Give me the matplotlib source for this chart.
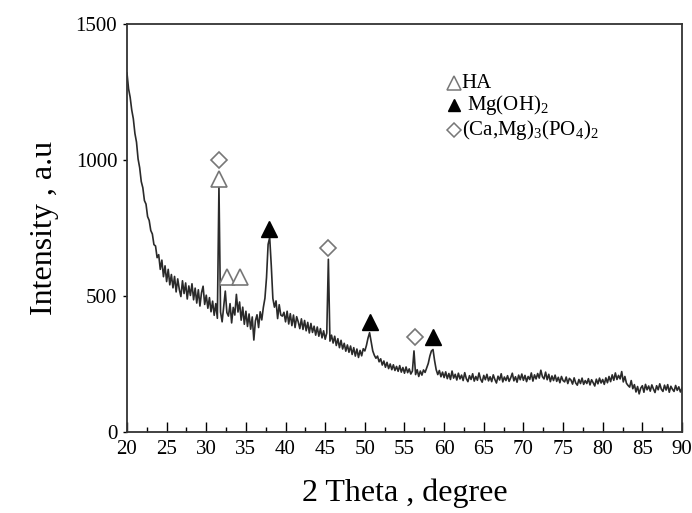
import numpy as np
import matplotlib
matplotlib.use("Agg")
import matplotlib.pyplot as plt
from matplotlib.ticker import MultipleLocator

plt.rcParams['font.family'] = ['Liberation Serif', 'DejaVu Serif']
plt.rcParams['mathtext.fontset'] = 'custom'
plt.rcParams['mathtext.rm'] = 'Liberation Serif'

# XRD intensity, 20..90 deg in 0.2 deg steps
intensity = [
    1320, 1262, 1231, 1184, 1152, 1098, 1066, 1004, 972, 921,
    898, 851, 838, 792, 778, 741, 728, 689, 684, 641,
    652, 598, 632, 571, 611, 553, 598, 541, 579, 530,
    572, 515, 563, 524, 498, 556, 509, 548, 489, 537,
    502, 545, 486, 529, 474, 523, 463, 512, 536, 469,
    503, 455, 494, 442, 481, 429, 472, 418, 905, 441,
    405, 463, 518, 439, 426, 472, 401, 458, 430, 506,
    441, 478, 411, 459, 396, 444, 388, 434, 378, 423,
    338, 409, 431, 384, 442, 412, 458, 492, 568, 690,
    715, 612, 491, 459, 482, 417, 468, 430, 426, 440,
    405, 444, 397, 435, 391, 430, 384, 424, 405, 380,
    416, 377, 410, 372, 403, 364, 399, 366, 389, 356,
    386, 352, 380, 346, 372, 341, 364, 635, 334, 356,
    327, 352, 318, 343, 310, 337, 305, 326, 297, 320,
    293, 316, 285, 310, 279, 305, 274, 300, 280, 306,
    298, 318, 345, 365, 332, 298, 282, 271, 279, 258,
    269, 246, 261, 238, 256, 233, 250, 229, 247, 226,
    241, 223, 244, 220, 237, 216, 239, 218, 232, 213,
    224, 298, 211, 229, 204, 224, 209, 228, 219, 236,
    252, 279, 298, 303, 262, 229, 211, 226, 203, 220,
    200, 221, 196, 215, 193, 224, 198, 212, 191, 216,
    195, 209, 189, 218, 196, 185, 207, 193, 214, 187,
    204, 190, 217, 194, 183, 208, 192, 212, 188, 203,
    185, 210, 193, 180, 205, 191, 214, 184, 202, 189,
    207, 186, 199, 216, 188, 203, 183, 209, 192, 213,
    190, 208, 185, 204, 193, 217, 187, 210, 195, 215,
    198, 227, 203, 195, 220, 192, 212, 185, 206, 189,
    209, 186, 201, 181, 204, 189, 184, 202, 178, 197,
    191, 176, 199, 180, 172, 193, 178, 198, 175, 189,
    178, 196, 173, 192, 181, 169, 194, 177, 198, 180,
    193, 175, 199, 181, 204, 185, 210, 190, 217, 193,
    208, 195, 222, 184, 204, 179, 171, 165, 189, 159,
    174, 147, 167, 140, 161, 170, 146, 175, 155, 169,
    150, 173, 158, 145, 170, 155, 177, 157, 149, 172,
    154, 174, 146, 168, 157, 149, 171, 153, 166, 147,
    161,
]
two_theta = np.linspace(20, 90, len(intensity))

# phase markers (position, height)
ha_x = [31.6, 32.6, 34.2]
ha_y = [930, 570, 570]
mgoh_x = [37.9, 50.6, 58.6]
mgoh_y = [745, 405, 350]
camg_x = [31.6, 45.4, 56.3]
camg_y = [1000, 678, 350]

fig = plt.figure(figsize=(6.92, 5.13), dpi=100)
ax = fig.add_axes([0.1835, 0.158, 0.802, 0.795])

ax.plot(two_theta, intensity, color='#2a2a2a', lw=1.2)

ax.plot(ha_x, ha_y, ls='none', marker='^', ms=11, mfc='white', mec='#777777', mew=1.2)
ax.plot(mgoh_x, mgoh_y, ls='none', marker='^', ms=11, color='black')
ax.plot(camg_x, camg_y, ls='none', marker='D', ms=8, mfc='white', mec='#777777', mew=1.2)

# legend drawn by hand
ax.plot([0.589], [0.855], transform=ax.transAxes, marker='^', ms=10,
        mfc='white', mec='#777777', mew=1.1)
ax.plot([0.589], [0.801], transform=ax.transAxes, marker='^', ms=9, color='black')
ax.plot([0.589], [0.740], transform=ax.transAxes, marker='D', ms=7,
        mfc='white', mec='#777777', mew=1.1)
ax.text(0.603, 0.855, 'HA', transform=ax.transAxes, fontsize=15, va='center')
ax.text(0.612, 0.801, r'Mg(OH)$_\mathregular{2}$', transform=ax.transAxes,
        fontsize=15, va='center')
ax.text(0.603, 0.740, r'(Ca,Mg)$_\mathregular{3}$(PO$_\mathregular{4}$)$_\mathregular{2}$',
        transform=ax.transAxes, fontsize=15, va='center')

ax.set_xlim(20, 90)
ax.set_ylim(0, 1500)
ax.set_xticks(np.arange(20, 91, 5))
ax.xaxis.set_minor_locator(MultipleLocator(2.5))
ax.set_yticks([0, 500, 1000, 1500])
ax.tick_params(axis='x', which='major', direction='in', length=7, width=1,
               labelsize=15, pad=6)
ax.tick_params(axis='x', which='minor', direction='in', length=3.5, width=1)
ax.tick_params(axis='y', direction='out', length=3, width=1, labelsize=15, pad=4)
for s in ax.spines.values():
    s.set_linewidth(1.3)
    s.set_color('#333333')

ax.set_xlabel('2 Theta , degree', fontsize=23, labelpad=14)
ax.set_ylabel('Intensity , a.u', fontsize=23, labelpad=12)

fig.savefig('out.png', dpi=100)
